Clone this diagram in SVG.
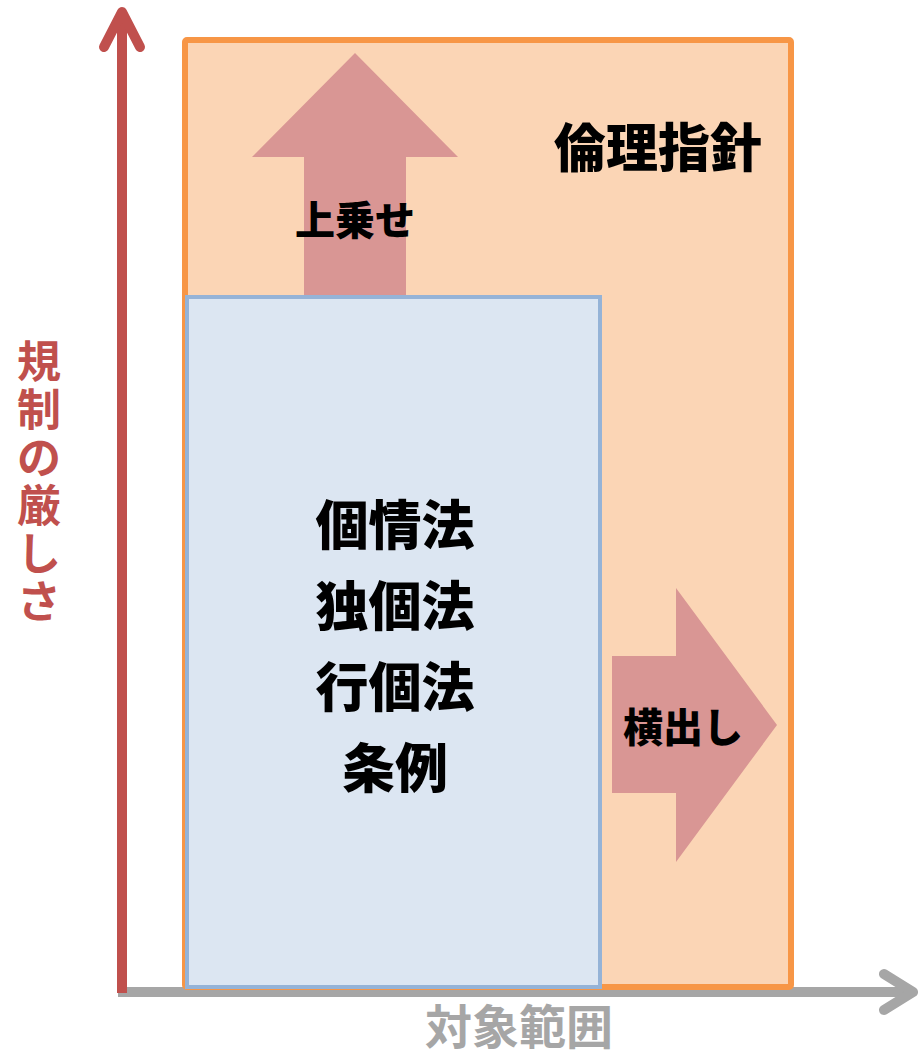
<svg xmlns="http://www.w3.org/2000/svg" width="918" height="1051" viewBox="0 0 918 1051">
<style>
.t{font-family:"Noto Sans CJK JP","Noto Sans CJK SC",sans-serif;font-weight:bold;text-anchor:middle;dominant-baseline:central}
.blk{fill:#000;font-weight:900}
.ar{fill:#D99694}
</style>
<rect width="918" height="1051" fill="#fff"/>
<g id="axes">
<g id="x-axis" fill="none" stroke="#A6A6A6" stroke-width="10" stroke-linecap="round" stroke-linejoin="round">
<line x1="118" y1="992" x2="912" y2="992" stroke-linecap="butt"/>
<polyline points="884,974 913,992 884,1010"/>
</g>
<g id="y-axis" fill="none" stroke="#C0504D" stroke-width="10" stroke-linecap="round" stroke-linejoin="round">
<line x1="122" y1="993" x2="122" y2="12" stroke-linecap="butt"/>
<polyline points="104,47 122,12 140,47"/>
</g>
</g>
<g id="ethics">
<rect x="185" y="40" width="606" height="947" rx="2" fill="#FBD5B5" stroke="#F79646" stroke-width="6"/>
<text class="t blk" x="658" y="144" font-size="52">倫理指針</text>
</g>
<g id="up-arrow">
<polygon class="ar" points="304,300 304,157 252,157 355,53 458,157 406,157 406,300"/>
<text class="t blk" x="355" y="218" font-size="40">上乗せ</text>
</g>
<g id="laws">
<rect x="187" y="297" width="413" height="690" fill="#DCE6F2" stroke="#95B3D7" stroke-width="4"/>
<text class="t blk" x="395" y="522" font-size="53">個情法</text>
<text class="t blk" x="395" y="603" font-size="53">独個法</text>
<text class="t blk" x="395" y="684" font-size="53">行個法</text>
<text class="t blk" x="395" y="765" font-size="53">条例</text>
</g>
<g id="right-arrow">
<polygon class="ar" points="612,656 676,656 676,588 777,725 676,862 676,793 612,793"/>
<text class="t blk" x="683" y="725" font-size="40">横出し</text>
</g>
<g id="y-label" fill="#C0504D">
<text class="t" x="39" y="359" font-size="44">規</text>
<text class="t" x="39" y="407" font-size="44">制</text>
<text class="t" x="39" y="455" font-size="44">の</text>
<text class="t" x="39" y="503" font-size="44">厳</text>
<text class="t" x="39" y="551" font-size="44">し</text>
<text class="t" x="39" y="599" font-size="44">さ</text>
</g>
<g id="x-label">
<text class="t" x="519" y="1023" font-size="47" fill="#A6A6A6">対象範囲</text>
</g>
</svg>
